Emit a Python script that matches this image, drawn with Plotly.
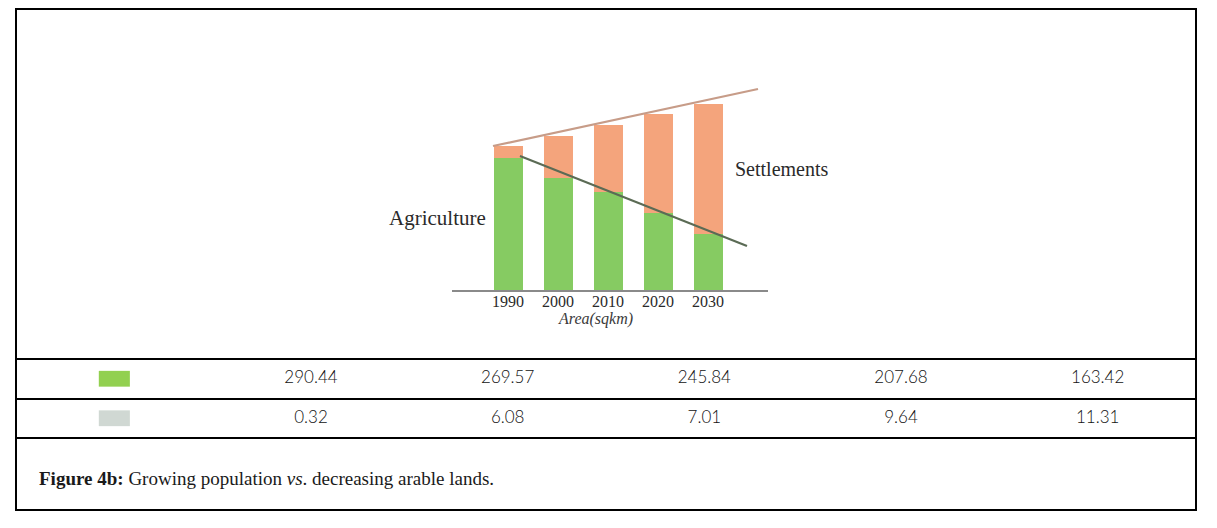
import plotly.graph_objects as go

# bar chart (arbitrary area units)
years = [1990, 2000, 2010, 2020, 2030]
agriculture = [132, 112, 98, 77, 56]
settlements = [12, 42, 67, 99, 130]

# trend lines drawn over the bars
upper_x = [1987, 2040]
upper_y = [144, 201]
lower_x = [1992.4, 2037.8]
lower_y = [134, 44]

# table under the chart
table_green = ["290.44", "269.57", "245.84", "207.68", "163.42"]
table_grey = ["0.32", "6.08", "7.01", "9.64", "11.31"]
swatch_colors = ["#92d050", "#d0d8d3"]

# page body has an 8px margin, so the figure is shifted by 8px
OFF = 8
W, H = 1209, 520
px = lambda v: (v - OFF) / W
py = lambda v: 1 - (v - OFF) / H

fig = go.Figure()

fig.add_trace(go.Bar(x=years, y=agriculture, width=5.8, marker=dict(color="#86cb62", line=dict(width=0)),
                     showlegend=False, hoverinfo="skip"))
fig.add_trace(go.Bar(x=years, y=settlements, width=5.8, marker=dict(color="#f4a47c", line=dict(width=0)),
                     showlegend=False, hoverinfo="skip"))
fig.add_trace(go.Scatter(x=upper_x, y=upper_y, mode="lines", line=dict(color="#c79c88", width=2.2),
                         showlegend=False, hoverinfo="skip"))
fig.add_trace(go.Scatter(x=lower_x, y=lower_y, mode="lines", line=dict(color="#5b6b55", width=2.2),
                         showlegend=False, hoverinfo="skip"))

# table numbers, columns 1..5 on the second axis pair
cols = list(range(1, len(table_green) + 1))
numfont = dict(family="Lato", size=17, color="#111", weight=300)
fig.add_trace(go.Scatter(x=cols, y=[0] * len(cols), text=table_green, mode="text", textfont=numfont,
                         xaxis="x2", yaxis="y2", showlegend=False, hoverinfo="skip"))
fig.add_trace(go.Scatter(x=cols, y=[1] * len(cols), text=table_grey, mode="text", textfont=numfont,
                         xaxis="x2", yaxis="y2", showlegend=False, hoverinfo="skip"))

shapes = []
# outer frame
shapes.append(dict(type="rect", xref="paper", yref="paper", x0=px(16), x1=px(1196), y0=py(9), y1=py(510),
                   line=dict(color="black", width=2)))
# table rules
for yy in [359, 399, 438]:
    shapes.append(dict(type="line", xref="paper", yref="paper", x0=px(16), x1=px(1196), y0=py(yy), y1=py(yy),
                       line=dict(color="black", width=2)))
# colour swatches
for i, c in enumerate(swatch_colors):
    shapes.append(dict(type="rect", xref="x2", yref="y2", x0=-0.079, x1=0.079, y0=i - 0.2, y1=i + 0.2,
                       fillcolor=c, line=dict(width=0)))

serif = "Liberation Serif"
annotations = [
    dict(text="Agriculture", x=px(488), y=py(218), xanchor="right",
         font=dict(family=serif, size=21, color="#2a2a2a")),
    dict(text="Settlements", x=px(733), y=py(169), xanchor="left",
         font=dict(family=serif, size=20, color="#2a2a2a")),
    dict(text="<i>Area(sqkm)</i>", x=px(595), y=py(319), xanchor="center",
         font=dict(family=serif, size=16, color="#3a3a3a")),
    dict(text="<b>Figure 4b:</b> Growing population <i>vs</i>. decreasing arable lands.",
         x=px(37), y=py(478), xanchor="left",
         font=dict(family=serif, size=19, color="#1a1a1a")),
]
for a in annotations:
    a.update(xref="paper", yref="paper", yanchor="middle", showarrow=False)

fig.update_layout(
    width=W, height=H,
    margin=dict(l=0, r=0, t=0, b=0),
    paper_bgcolor="white", plot_bgcolor="rgba(0,0,0,0)",
    barmode="stack", bargap=0,
    xaxis=dict(domain=[px(452), px(768)], range=[1978.8, 2042], showgrid=False, zeroline=False,
               showline=True, linecolor="#8a8a8a", linewidth=2, tickvals=years, ticks="",
               ticklabelstandoff=-4,
               tickfont=dict(family=serif, size=16, color="#2a2a2a"), fixedrange=True),
    yaxis=dict(domain=[py(290), py(80)], range=[0, 210], visible=False, fixedrange=True),
    xaxis2=dict(domain=[px(16), px(1196)], range=[-0.5, 5.5], visible=False, anchor="y2", fixedrange=True),
    yaxis2=dict(domain=[py(438), py(359)], range=[1.5, -0.5], visible=False, anchor="x2", fixedrange=True),
    shapes=shapes,
    annotations=annotations,
)

fig.write_html("out.html")
